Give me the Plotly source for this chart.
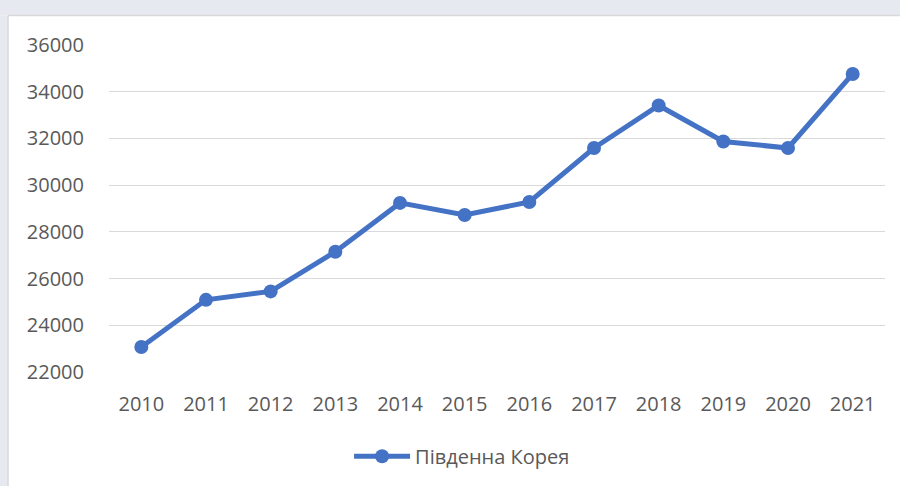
import plotly.graph_objects as go

years = ["2010", "2011", "2012", "2013", "2014", "2015", "2016", "2017", "2018", "2019", "2020", "2021"]
values = [23070, 25090, 25450, 27150, 29240, 28720, 29280, 31590, 33410, 31870, 31590, 34760]
series_name = "Південна Корея"
y_ticks = [22000, 24000, 26000, 28000, 30000, 32000, 34000, 36000]

L, R, T, B = 109, 15, 44.5, 113.5
W, H = 900, 486
pw, ph = W - L - R, H - T - B

def px(x):
    return (x - L) / pw

def py(y):
    return (H - B - y) / ph

fig = go.Figure()
fig.add_trace(go.Scatter(
    x=years, y=values, mode="lines+markers", name=series_name,
    line=dict(color="#4472C4", width=5),
    marker=dict(color="#4472C4", size=14),
))

font_family = "Open Sans, Carlito, Calibri, sans-serif"
fs = 20
fig.update_layout(
    width=W, height=H,
    margin=dict(l=L, r=R, t=T, b=B, autoexpand=False),
    paper_bgcolor="white", plot_bgcolor="white",
    font=dict(family=font_family, size=fs, color="#595959"),
    showlegend=True,
    legend=dict(orientation="h", x=0.455, xanchor="center", y=py(457), yanchor="middle",
                font=dict(size=fs, color="#595959"), bgcolor="rgba(0,0,0,0)",
                itemwidth=56),
    xaxis=dict(type="category", range=[-0.5, len(years) - 0.5],
               showgrid=False, zeroline=False, showline=False,
               ticks="outside", ticklen=14, tickcolor="rgba(0,0,0,0)",
               tickfont=dict(size=fs, color="#595959"), fixedrange=True),
    yaxis=dict(range=[22000, 36000], tickvals=y_ticks, tickformat="d",
               showgrid=True, gridcolor="#D9D9D9",
               gridwidth=1.3, zeroline=False, showline=False,
               ticks="outside", ticklen=20, tickcolor="rgba(0,0,0,0)",
               tickfont=dict(size=fs, color="#595959"), fixedrange=True),
    shapes=[
        dict(type="rect", xref="paper", yref="paper", x0=px(-2), x1=px(902), y0=py(15), y1=py(-2),
             fillcolor="#E6E9EF", line=dict(width=0), layer="below"),
        dict(type="rect", xref="paper", yref="paper", x0=px(-2), x1=px(8), y0=py(488), y1=py(15),
             fillcolor="#E6E9EF", line=dict(width=0), layer="below"),
        dict(type="line", xref="paper", yref="paper", x0=px(8), x1=px(902), y0=py(15), y1=py(15),
             line=dict(color="#D9D9D9", width=1.5), layer="below"),
        dict(type="line", xref="paper", yref="paper", x0=px(8), x1=px(8), y0=py(15), y1=py(488),
             line=dict(color="#D9D9D9", width=1.5), layer="below"),
    ],
)

fig.write_html("out.html", config={"displayModeBar": False},
               post_script="document.body.style.margin='0';document.body.style.overflow='hidden';")
